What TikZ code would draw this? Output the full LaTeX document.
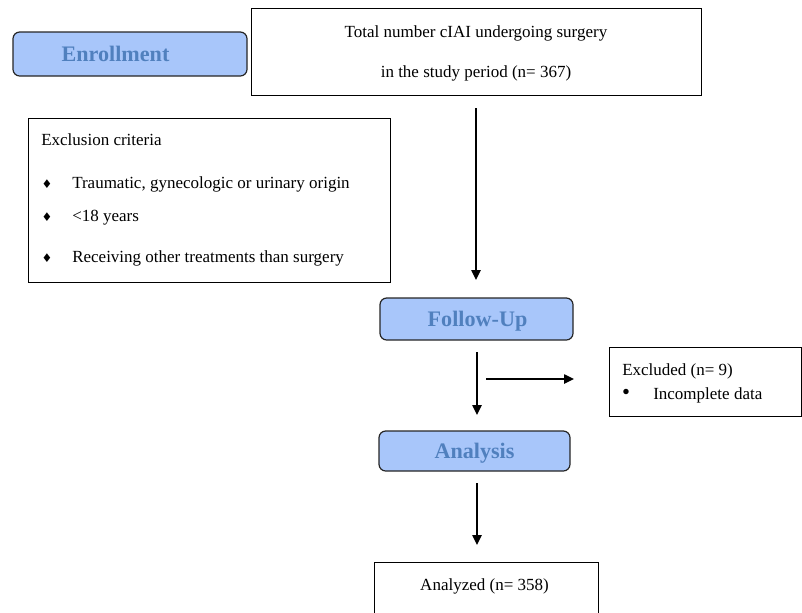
\documentclass[tikz,border=0pt]{standalone}
\usepackage{fontspec}
\setmainfont{Liberation Serif}
\newfontfamily\symfont{DejaVu Sans}
\usetikzlibrary{arrows.meta}
\definecolor{phasefill}{HTML}{A8C6FA}
\definecolor{phasetext}{HTML}{5080BE}
\tikzset{
  phase/.style={draw=black!85, line width=0.9pt, fill=phasefill, rounded corners=5pt, inner sep=0pt},
  phasetxt/.style={font=\fontsize{16.6}{18}\selectfont\bfseries, text=phasetext, inner sep=0pt, anchor=mid},
  plainbox/.style={draw=black, line width=0.75pt, inner sep=0pt},
  txt/.style={font=\fontsize{12.75}{14}\selectfont, inner sep=0pt},
  flow/.style={line width=1.1pt, -{Triangle[length=7.5pt,width=7pt]}},
}
\begin{document}
\begin{tikzpicture}[x=0.75pt,y=-0.75pt]
\useasboundingbox (0,0) rectangle (802,612);
% phase boxes
\node[phase, minimum width=175.5pt, minimum height=33pt] (enroll) at (130,54) {};
\node[phasetxt] (enrollt) at (115.5,58) {Enrollment};
\node[phase, minimum width=144.75pt, minimum height=31.5pt] (follow) at (476.5,319) {};
\node[phasetxt] (followt) at (477.5,323) {Follow-Up};
\node[phase, minimum width=143.25pt, minimum height=30pt] (analysis) at (474.5,451) {};
\node[phasetxt] (analysist) at (474.5,455) {Analysis};
% top box
\node[plainbox, minimum width=337.5pt, minimum height=65.25pt] (total) at (476,51.5) {};
\node[txt, anchor=mid] (total1) at (476,34) {Total number cIAI undergoing surgery};
\node[txt, anchor=mid] (total2) at (476,74) {in the study period (n= 367)};
% exclusion criteria
\node[plainbox, minimum width=271.5pt, minimum height=123pt] (excl) at (209,200) {};
\node[txt, anchor=mid west] (exclt) at (41,142) {Exclusion criteria};
\node[txt, anchor=mid] (b1) at (47,185) {\symfont\fontsize{9}{10}\selectfont ♦};
\node[txt, anchor=mid west] (e1) at (72,185) {Traumatic, gynecologic or urinary origin};
\node[txt, anchor=mid] (b2) at (47,218) {\symfont\fontsize{9}{10}\selectfont ♦};
\node[txt, anchor=mid west] (e2) at (72,218) {<18 years};
\node[txt, anchor=mid] (b3) at (47,259) {\symfont\fontsize{9}{10}\selectfont ♦};
\node[txt, anchor=mid west] (e3) at (72,259) {Receiving other treatments than surgery};
% excluded
\node[plainbox, minimum width=144pt, minimum height=51.75pt] (excluded) at (705,381.5) {};
\node[txt, anchor=mid west] (exct) at (622,372) {Excluded (n= 9)};
\node[txt, anchor=mid] (b4) at (626,396) {\fontsize{17}{17}\selectfont •};
\node[txt, anchor=mid west] (exc1) at (653,396) {Incomplete data};
% analyzed
\node[plainbox, minimum width=168pt, minimum height=58.5pt] (analyzed) at (486,601) {};
\node[txt, anchor=mid] (analyzedt) at (484.5,587) {Analyzed (n= 358)};
% arrow coordinates
\coordinate (a1s) at (476,108); \coordinate (a1e) at (476,280);
\coordinate (a2s) at (477,352); \coordinate (a2e) at (477,415);
\coordinate (a3s) at (486,379); \coordinate (a3e) at (574,379);
\coordinate (a4s) at (477,483); \coordinate (a4e) at (477,545);
\draw[flow] (a1s) -- (a1e);
\draw[flow] (a2s) -- (a2e);
\draw[flow] (a3s) -- (a3e);
\draw[flow] (a4s) -- (a4e);
\end{tikzpicture}
\end{document}
